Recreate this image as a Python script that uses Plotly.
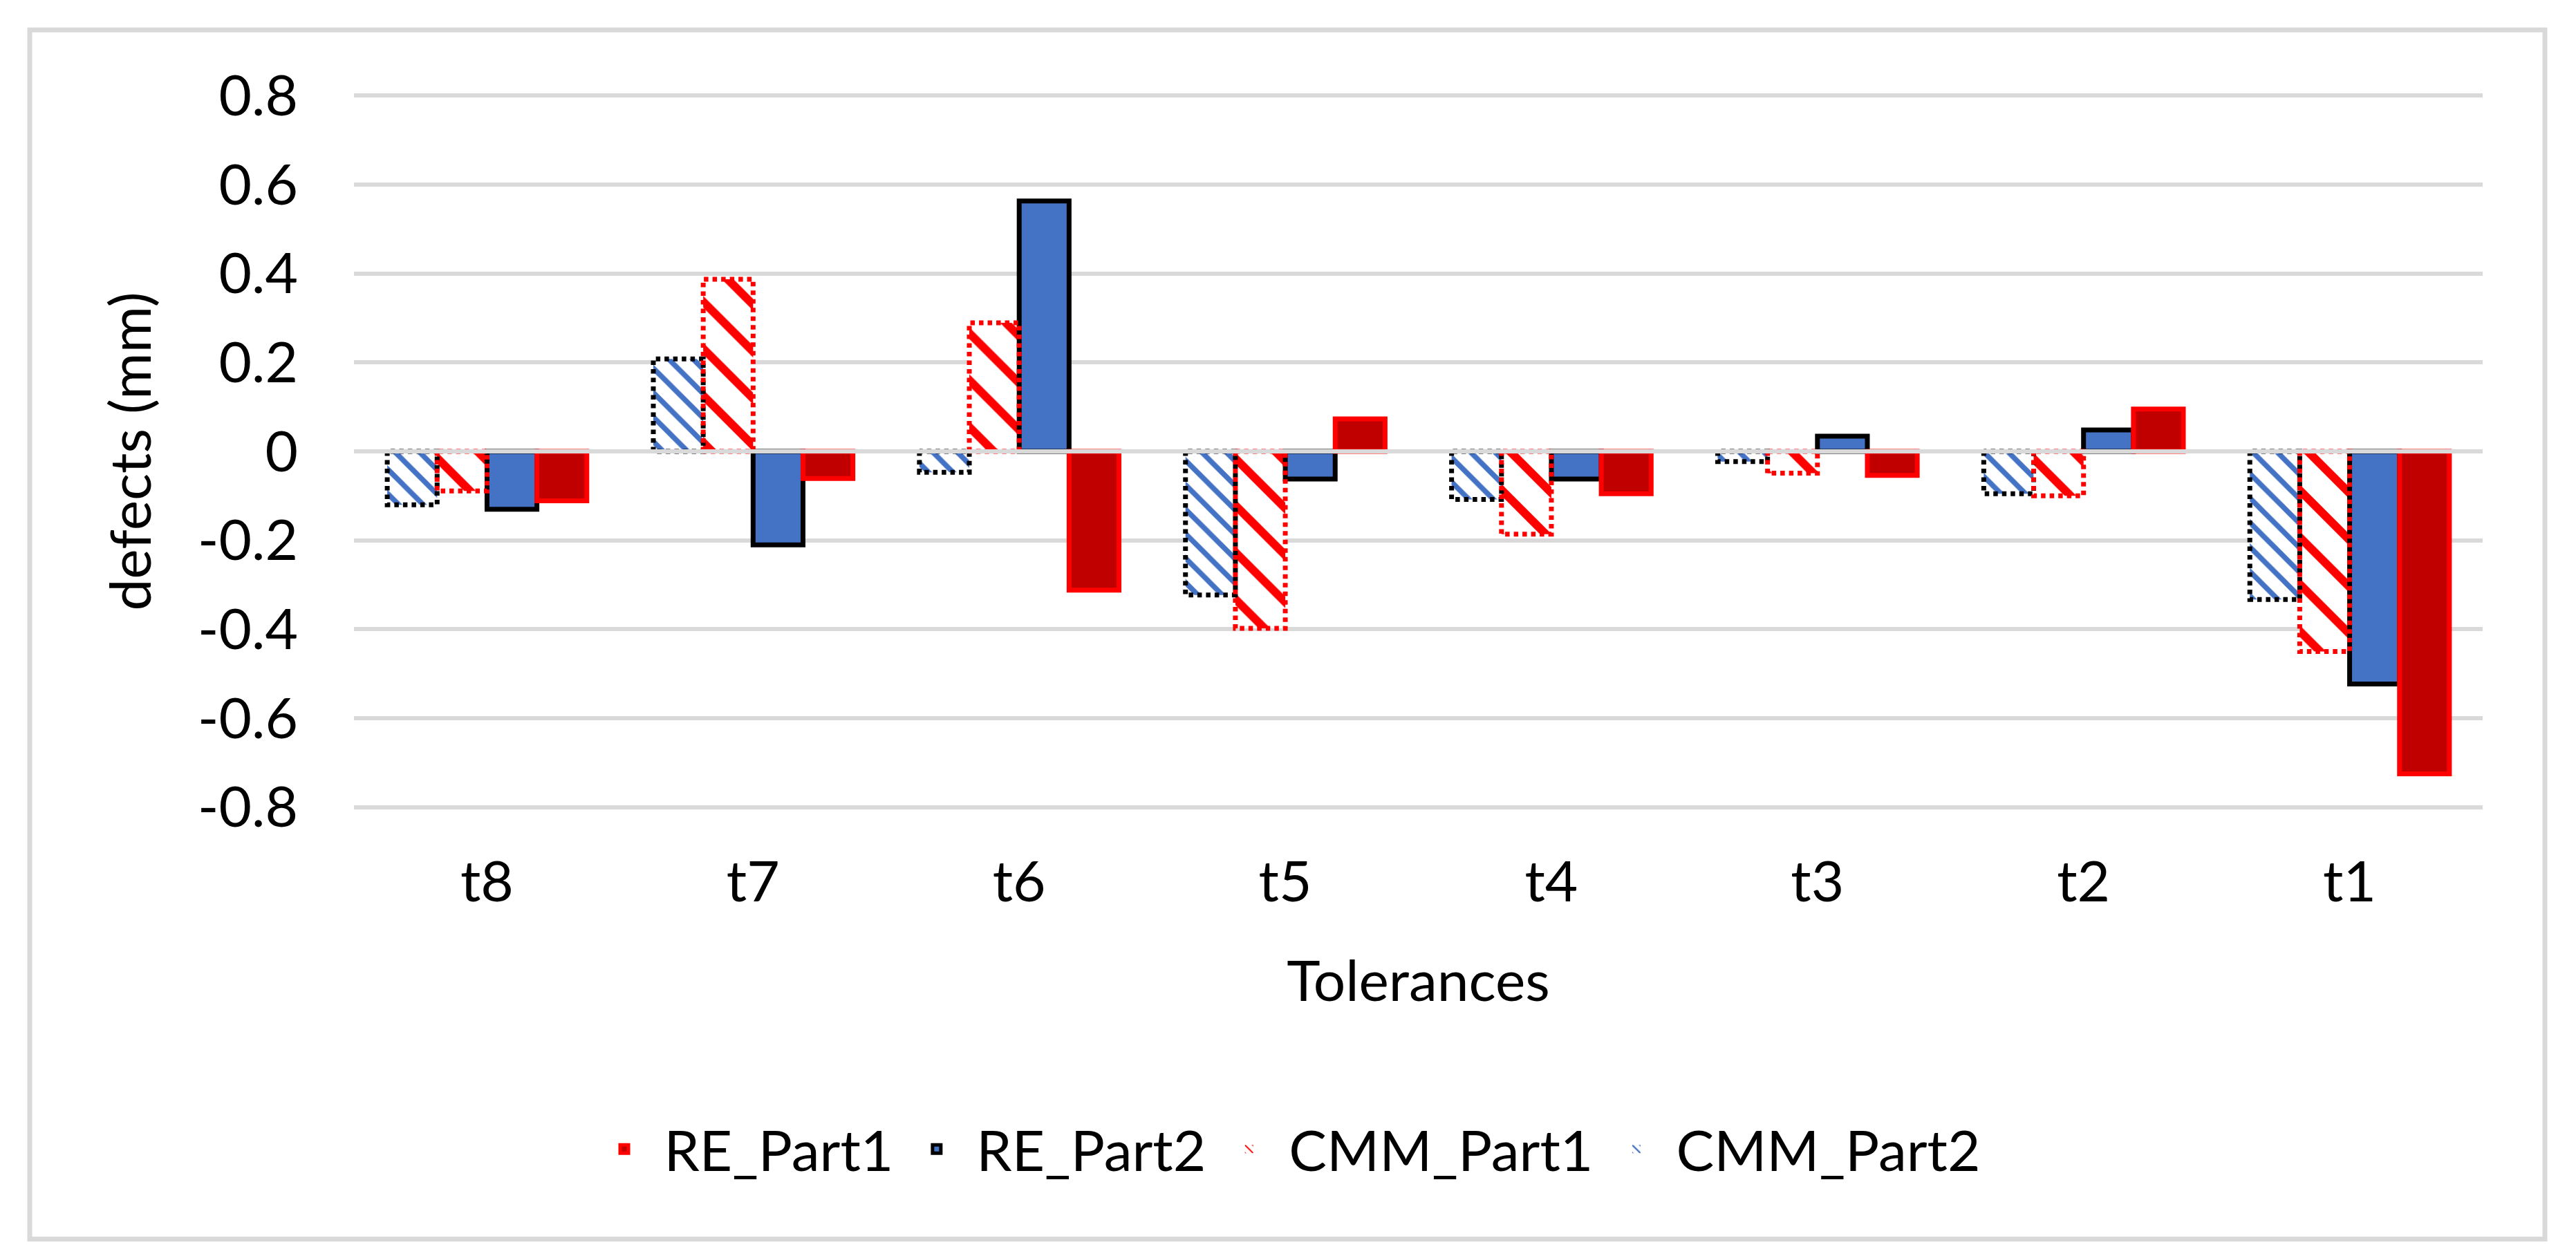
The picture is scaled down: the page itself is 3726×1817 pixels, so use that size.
import plotly.graph_objects as go

# ---- data ----
categories = ["t8", "t7", "t6", "t5", "t4", "t3", "t2", "t1"]
re_part1 = [-0.111, -0.061, -0.312, 0.073, -0.095, -0.054, 0.095, -0.725]
re_part2 = [-0.130, -0.210, 0.563, -0.062, -0.062, 0.034, 0.048, -0.523]
cmm_part1 = [-0.089, 0.387, 0.289, -0.398, -0.186, -0.049, -0.100, -0.450]
cmm_part2 = [-0.120, 0.208, -0.047, -0.323, -0.108, -0.023, -0.095, -0.333]
y_ticks = [-0.8, -0.6, -0.4, -0.2, 0, 0.2, 0.4, 0.6, 0.8]
y_tick_text = ["-0.8", "-0.6", "-0.4", "-0.2", "0", "0.2", "0.4", "0.6", "0.8"]

FONT = "Lato"
FS = 82
GRID = "#D9D9D9"
BW = 0.1875          # bar width (category units)
GROUP = 4 * BW

W, H = 3726, 1817
PAD = 0.005                      # small range padding so edge gridlines are drawn
Y0, Y1 = -0.8 - PAD, 0.8 + PAD
px_per_unit = (1160 - 130) / 1.6
m_top = 130 - PAD * px_per_unit
m_bot = (H - 1160) - PAD * px_per_unit
m_left, m_right = 504, W - 3583
plot_w = W - m_left - m_right
plot_h = H - m_top - m_bot


def paper_x(px):
    return (px - m_left) / plot_w


def paper_y(py):
    return (H - m_bot - py) / plot_h


xpos = list(range(len(categories)))

fig = go.Figure()

series = [
    ("CMM_Part2", cmm_part2, 0, dict(kind="hatch", fg="#4472C4", size=25, solidity=0.3, edge="black")),
    ("CMM_Part1", cmm_part1, 1, dict(kind="hatch", fg="#FF0000", size=48, solidity=0.25, edge="#FF0000")),
    ("RE_Part2", re_part2, 2, dict(kind="solid", fill="#4472C4", edge="black")),
    ("RE_Part1", re_part1, 3, dict(kind="solid", fill="#C00000", edge="#FF0000")),
]
legend_rank = {"RE_Part1": 1, "RE_Part2": 2, "CMM_Part1": 3, "CMM_Part2": 4}

outline_traces = []
for name, vals, k, st in series:
    off = -GROUP / 2 + k * BW
    if st["kind"] == "solid":
        marker = dict(color=st["fill"], line=dict(color=st["edge"], width=7))
    else:
        marker = dict(color="white",
                      line=dict(width=0),
                      pattern=dict(shape="\\", fgcolor=st["fg"], bgcolor="white",
                                   size=st["size"], solidity=st["solidity"], fillmode="replace"))
    fig.add_trace(go.Bar(
        x=xpos, y=vals, name=name, width=BW, offset=off, marker=marker,
        legendrank=legend_rank[name], hoverinfo="x+y",
    ))
    if st["kind"] == "hatch":
        ox, oy = [], []
        for xi, v in zip(xpos, vals):
            x0, x1 = xi + off, xi + off + BW
            ox += [x0, x0, x1, x1, x0, None]
            oy += [0, v, v, 0, 0, None]
        outline_traces.append(go.Scatter(
            x=ox, y=oy, mode="lines", showlegend=False, hoverinfo="skip",
            line=dict(color=st["edge"], width=7, dash="6.5px,6px"),
        ))

for tr in outline_traces:
    fig.add_trace(tr)

fig.update_layout(
    width=W, height=H,
    margin=dict(l=m_left, r=m_right, t=m_top, b=m_bot, autoexpand=False),
    paper_bgcolor="white", plot_bgcolor="white",
    barmode="overlay",
    font=dict(family=FONT, size=FS, color="black"),
    showlegend=True,
    legend=dict(orientation="h", x=paper_x(1850), xanchor="center",
                y=paper_y(1655), yanchor="middle",
                font=dict(size=FS, family=FONT, color="black"), itemwidth=105,
                bgcolor="rgba(0,0,0,0)"),
    xaxis=dict(range=[-0.5, len(categories) - 0.5], tickmode="array", tickvals=xpos,
               ticktext=categories, showgrid=False, zeroline=False, showline=False,
               ticks="", ticklabelstandoff=50,
               title=dict(text="Tolerances", font=dict(size=FS, family=FONT), standoff=70)),
    yaxis=dict(range=[Y0, Y1], tickmode="array", tickvals=y_ticks, ticktext=y_tick_text,
               showgrid=True, gridcolor=GRID, gridwidth=6, zeroline=False, showline=False,
               ticks="", ticklabelstandoff=80,
               title=dict(text="defects (mm)", font=dict(size=FS, family=FONT), standoff=40)),
    shapes=[
        dict(type="line", xref="paper", x0=0, x1=1, yref="y", y0=0, y1=0,
             layer="above", line=dict(color=GRID, width=6)),
        dict(type="rect", xref="paper", yref="paper",
             x0=paper_x(35), x1=paper_x(3673), y0=paper_y(1785), y1=paper_y(35),
             layer="below", line=dict(color=GRID, width=7), fillcolor="rgba(0,0,0,0)"),
    ],
)

fig.write_html("out.html")
